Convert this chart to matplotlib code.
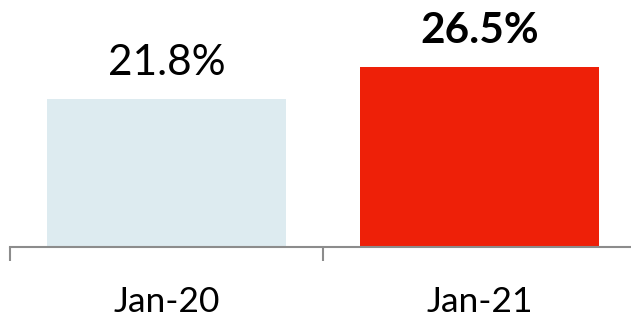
import matplotlib.pyplot as plt
from matplotlib.ticker import FixedLocator

# Share of respondents, year over year
categories = ["Jan-20", "Jan-21"]
values = [21.8, 26.5]
value_labels = ["21.8%", "26.5%"]
bar_colors = ["#DDEBF0", "#EE2008"]
label_weights = ["normal", "bold"]

plt.rcParams['font.family'] = ['Lato', 'DejaVu Sans']

fig = plt.figure(figsize=(6.31, 3.2), dpi=100)
# axis runs a little past the right edge of the canvas
ax = fig.add_axes([10 / 631, 73 / 320, 626 / 631, 203.7 / 320])

x = list(range(len(categories)))
ax.bar(x, values, width=0.764, color=bar_colors)

for xi, v, lab, w in zip(x, values, value_labels, label_weights):
    ax.text(xi, v + 3.5, lab, ha="center", va="baseline", fontsize=30.5,
            fontweight=w, color="black", clip_on=False)

ax.set_xlim(-0.5, 1.5)
ax.set_ylim(0, 30)

for side in ["top", "right", "left"]:
    ax.spines[side].set_visible(False)
ax.spines["bottom"].set_color("#8C8C8C")
ax.spines["bottom"].set_linewidth(1.5)

ax.set_yticks([])
ax.set_xticks(x)
ax.set_xticklabels(categories, fontsize=25.5)
ax.tick_params(axis="x", which="major", length=0, pad=28)
ax.xaxis.set_minor_locator(FixedLocator([-0.5, 0.5, 1.5]))
ax.tick_params(axis="x", which="minor", length=10, width=1.5, color="#8C8C8C")

fig.savefig("out.png", dpi=100)
